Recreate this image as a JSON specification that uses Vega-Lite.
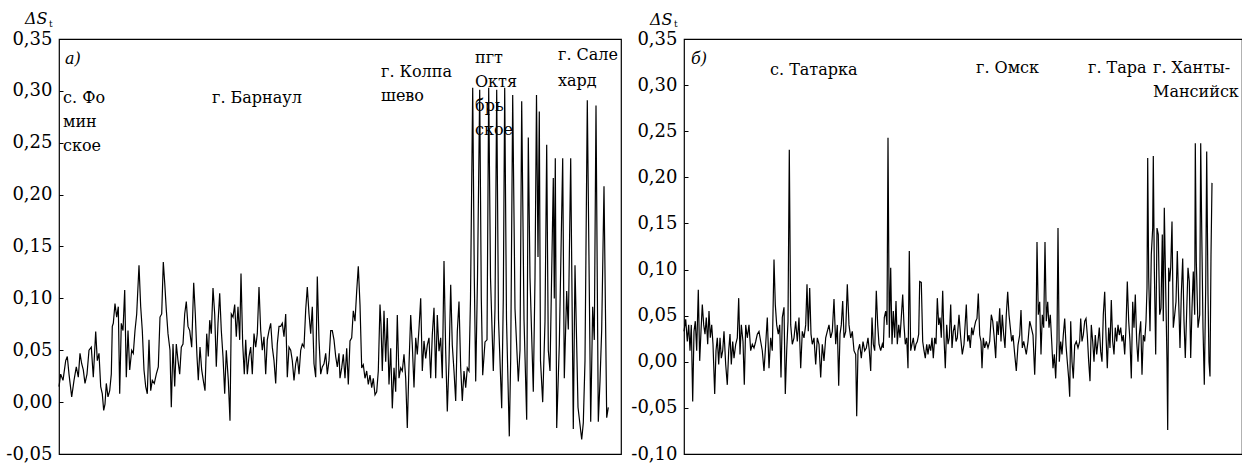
{
"$schema": "https://vega.github.io/schema/vega-lite/v6.json",
"background": "white",
"padding": {"left": 5, "top": 10, "right": 0, "bottom": 0},
"spacing": 8,
"config": {"view": {"stroke": "#000", "strokeWidth": 1.2}, "font": "DejaVu Serif", "text": {"font": "DejaVu Serif", "color": "#000"}},
"datasets": {
"a": [{"x":0,"y":0.015},{"x":1.7,"y":0.027},{"x":4,"y":0.021},{"x":6.7,"y":0.04},{"x":8.3,"y":0.044},{"x":10,"y":0.027},{"x":12.7,"y":0.005},{"x":15,"y":0.021},{"x":17.3,"y":0.034},{"x":19.3,"y":0.024},{"x":21,"y":0.047},{"x":22.7,"y":0.037},{"x":24.3,"y":0.031},{"x":26,"y":0.018},{"x":28,"y":0.027},{"x":30,"y":0.05},{"x":32.3,"y":0.053},{"x":34.3,"y":0.024},{"x":36.7,"y":0.068},{"x":38.3,"y":0.04},{"x":40,"y":0.047},{"x":41.7,"y":0.015},{"x":43.3,"y":0.008},{"x":44.7,"y":-0.008},{"x":46,"y":-0.002},{"x":47.3,"y":0.018},{"x":49,"y":0.005},{"x":50.7,"y":0.011},{"x":52.3,"y":0.027},{"x":53.3,"y":0.073},{"x":54.3,"y":0.076},{"x":56,"y":0.095},{"x":57.7,"y":0.082},{"x":59.3,"y":0.092},{"x":60.7,"y":0.008},{"x":62.3,"y":0.076},{"x":64,"y":0.069},{"x":65.7,"y":0.108},{"x":67.3,"y":0.024},{"x":69,"y":0.069},{"x":70.7,"y":0.031},{"x":72.7,"y":0.05},{"x":74.3,"y":0.047},{"x":76,"y":0.069},{"x":77.7,"y":0.085},{"x":80,"y":0.132},{"x":81.7,"y":0.092},{"x":83.3,"y":0.069},{"x":85,"y":0.031},{"x":86.7,"y":0.015},{"x":88.3,"y":0.008},{"x":90,"y":0.06},{"x":91.7,"y":0.011},{"x":93.3,"y":0.021},{"x":95.3,"y":0.018},{"x":97.3,"y":0.027},{"x":99.3,"y":0.034},{"x":101,"y":0.082},{"x":102.7,"y":0.085},{"x":104.3,"y":0.135},{"x":105.7,"y":0.115},{"x":107.3,"y":0.089},{"x":109,"y":0.066},{"x":111,"y":0.05},{"x":112.3,"y":-0.005},{"x":114,"y":0.056},{"x":115.7,"y":0.015},{"x":117.3,"y":0.056},{"x":119,"y":0.04},{"x":120.7,"y":0.027},{"x":122.3,"y":0.053},{"x":124,"y":0.056},{"x":125.7,"y":0.085},{"x":127.3,"y":0.097},{"x":129,"y":0.073},{"x":130.7,"y":0.069},{"x":132.7,"y":0.053},{"x":134.7,"y":0.115},{"x":136.3,"y":0.085},{"x":138,"y":0.044},{"x":139.3,"y":0.021},{"x":141,"y":0.053},{"x":142.7,"y":0.031},{"x":144.3,"y":0.021},{"x":146,"y":0.011},{"x":147.7,"y":0.066},{"x":149.3,"y":0.044},{"x":150.7,"y":0.079},{"x":152.3,"y":0.066},{"x":154,"y":0.11},{"x":155.7,"y":0.085},{"x":157.3,"y":0.034},{"x":159,"y":0.076},{"x":160.7,"y":0.105},{"x":162.3,"y":0.069},{"x":164,"y":0.044},{"x":165.7,"y":0.008},{"x":167.3,"y":0.05},{"x":169.3,"y":0.021},{"x":171,"y":-0.018},{"x":172.3,"y":0.085},{"x":174,"y":0.082},{"x":175.7,"y":0.094},{"x":177.3,"y":0.063},{"x":179,"y":0.092},{"x":180.7,"y":0.06},{"x":182,"y":0.124},{"x":183.7,"y":0.056},{"x":185.3,"y":0.027},{"x":186.7,"y":0.06},{"x":188.3,"y":0.027},{"x":190,"y":0.044},{"x":191.7,"y":0.053},{"x":193.3,"y":0.027},{"x":195,"y":0.066},{"x":196.7,"y":0.053},{"x":198.3,"y":0.066},{"x":200,"y":0.111},{"x":201.7,"y":0.069},{"x":203.3,"y":0.05},{"x":205,"y":0.063},{"x":206.7,"y":0.027},{"x":208.3,"y":0.06},{"x":210,"y":0.069},{"x":211.7,"y":0.076},{"x":213.3,"y":0.053},{"x":215,"y":0.04},{"x":216.7,"y":0.018},{"x":218.3,"y":0.056},{"x":220,"y":0.073},{"x":221.7,"y":0.073},{"x":223.3,"y":0.076},{"x":225,"y":0.063},{"x":226.7,"y":0.085},{"x":228.3,"y":0.024},{"x":230,"y":0.053},{"x":231.7,"y":0.05},{"x":233.3,"y":0.04},{"x":235,"y":0.021},{"x":236.7,"y":0.037},{"x":238.3,"y":0.044},{"x":240,"y":0.027},{"x":241.7,"y":0.05},{"x":243.3,"y":0.056},{"x":245,"y":0.053},{"x":246.7,"y":0.089},{"x":248.3,"y":0.111},{"x":250,"y":0.085},{"x":251.7,"y":0.066},{"x":253.3,"y":0.092},{"x":255,"y":0.037},{"x":256.7,"y":0.024},{"x":258.3,"y":0.121},{"x":260,"y":0.06},{"x":261.7,"y":0.027},{"x":263.3,"y":0.034},{"x":265,"y":0.037},{"x":266.7,"y":0.047},{"x":268.3,"y":0.027},{"x":270,"y":0.04},{"x":271.7,"y":0.069},{"x":273.3,"y":0.069},{"x":275,"y":0.06},{"x":276.7,"y":0.044},{"x":278.3,"y":0.034},{"x":280,"y":0.047},{"x":281,"y":0.023},{"x":282.7,"y":0.033},{"x":284.3,"y":0.046},{"x":286,"y":0.023},{"x":287.7,"y":0.052},{"x":289.3,"y":0.017},{"x":291,"y":0.059},{"x":292.7,"y":0.062},{"x":294.3,"y":0.088},{"x":296,"y":0.078},{"x":297.7,"y":0.107},{"x":299.3,"y":0.131},{"x":301,"y":0.094},{"x":302.7,"y":0.033},{"x":304.3,"y":0.036},{"x":306,"y":0.023},{"x":307.7,"y":0.03},{"x":309.3,"y":0.017},{"x":311,"y":0.026},{"x":312.7,"y":0.014},{"x":314.3,"y":0.023},{"x":316,"y":0.007},{"x":317.7,"y":0.01},{"x":319.3,"y":0.03},{"x":321,"y":0.094},{"x":322,"y":0.075},{"x":323.3,"y":0.03},{"x":325,"y":0.088},{"x":326.7,"y":0.039},{"x":328.3,"y":0.081},{"x":330,"y":0.017},{"x":331.7,"y":0.052},{"x":333.3,"y":-0.006},{"x":335,"y":0.033},{"x":336.7,"y":0.01},{"x":338.3,"y":0.084},{"x":340,"y":0.023},{"x":341.7,"y":0.033},{"x":343.3,"y":0.03},{"x":345,"y":0.046},{"x":346.7,"y":0.023},{"x":348.3,"y":-0.025},{"x":350,"y":0.036},{"x":351.7,"y":0.084},{"x":353.3,"y":0.055},{"x":355,"y":0.014},{"x":356.7,"y":0.062},{"x":358.3,"y":0.046},{"x":360,"y":0.071},{"x":361.7,"y":0.1},{"x":363.3,"y":0.03},{"x":365,"y":0.059},{"x":366.7,"y":0.042},{"x":368.3,"y":0.055},{"x":370,"y":0.062},{"x":371.7,"y":0.023},{"x":373.3,"y":0.065},{"x":375,"y":0.091},{"x":376.7,"y":0.023},{"x":378.3,"y":0.084},{"x":380,"y":0.049},{"x":381.7,"y":0.062},{"x":383.3,"y":0.023},{"x":385,"y":0.136},{"x":386.7,"y":0.049},{"x":388.3,"y":-0.009},{"x":390,"y":0.039},{"x":391.7,"y":0.113},{"x":393.3,"y":0.055},{"x":395,"y":0.03},{"x":396.7,"y":0.001},{"x":398.3,"y":0.068},{"x":400,"y":0.097},{"x":401.7,"y":0.033},{"x":403.3,"y":0.001},{"x":405,"y":0.03},{"x":406.7,"y":0.014},{"x":408.3,"y":0.033},{"x":410,"y":0.03},{"x":411.5,"y":0.1},{"x":413.7,"y":0.303},{"x":415.3,"y":0.12},{"x":416.7,"y":0.02},{"x":418.5,"y":0.12},{"x":420.7,"y":0.301},{"x":422.3,"y":0.1},{"x":423.7,"y":0.026},{"x":426,"y":0.058},{"x":428,"y":0.06},{"x":429.7,"y":0.303},{"x":431.5,"y":0.12},{"x":434.3,"y":0.03},{"x":436,"y":0.09},{"x":437.7,"y":0.301},{"x":439.5,"y":0.08},{"x":442.7,"y":-0.006},{"x":444.3,"y":0.1},{"x":445.7,"y":0.303},{"x":447.5,"y":0.08},{"x":450.3,"y":-0.033},{"x":451.7,"y":0.042},{"x":453.7,"y":0.296},{"x":456,"y":0.09},{"x":459.3,"y":0.02},{"x":461,"y":0.05},{"x":462.7,"y":0.29},{"x":465,"y":0.08},{"x":467.7,"y":-0.017},{"x":469.3,"y":0.255},{"x":471,"y":0.12},{"x":474.3,"y":0.01},{"x":476,"y":0.12},{"x":477.5,"y":0.296},{"x":479,"y":0.14},{"x":480.3,"y":0.28},{"x":481.5,"y":0.04},{"x":483.7,"y":0.0},{"x":486,"y":0.078},{"x":487.7,"y":0.248},{"x":489.3,"y":0.05},{"x":491,"y":0.03},{"x":494.3,"y":0.216},{"x":495.3,"y":0.1},{"x":496.3,"y":0.235},{"x":497.7,"y":-0.025},{"x":500.3,"y":0.055},{"x":503.7,"y":0.235},{"x":505.3,"y":0.023},{"x":507.7,"y":0.107},{"x":509.3,"y":0.07},{"x":511.7,"y":0.235},{"x":514.3,"y":-0.026},{"x":516,"y":0.132},{"x":519,"y":-0.005},{"x":522.7,"y":-0.036},{"x":524.3,"y":-0.02},{"x":526,"y":0.04},{"x":528.3,"y":0.291},{"x":531.7,"y":-0.019},{"x":533.7,"y":0.092},{"x":535.3,"y":0.06},{"x":537,"y":0.286},{"x":539.3,"y":-0.019},{"x":541,"y":0.02},{"x":542.7,"y":0.07},{"x":545,"y":0.208},{"x":547.7,"y":-0.015},{"x":549.3,"y":-0.005}],
"b": [{"x":0,"y":0.033},{"x":1.7,"y":0.046},{"x":3.3,"y":0.022},{"x":4.7,"y":0.04},{"x":6,"y":0.012},{"x":7.3,"y":0.04},{"x":8.7,"y":-0.043},{"x":10,"y":0.033},{"x":11.3,"y":0.044},{"x":12.7,"y":0.012},{"x":14.3,"y":0.078},{"x":15.7,"y":0.001},{"x":17,"y":0.033},{"x":18.3,"y":0.062},{"x":19.7,"y":0.04},{"x":21,"y":0.03},{"x":22.3,"y":0.048},{"x":23.7,"y":0.019},{"x":25,"y":0.055},{"x":26.3,"y":0.026},{"x":27.7,"y":0.04},{"x":29,"y":0.019},{"x":30.7,"y":-0.035},{"x":32,"y":0.012},{"x":33.3,"y":0.026},{"x":34.7,"y":-0.003},{"x":36,"y":0.026},{"x":37.3,"y":0.004},{"x":38.7,"y":0.012},{"x":40,"y":0.033},{"x":41.7,"y":-0.003},{"x":43.3,"y":-0.025},{"x":44.7,"y":0.012},{"x":46,"y":0.03},{"x":47.3,"y":-0.003},{"x":48.7,"y":0.022},{"x":50,"y":0.004},{"x":51.7,"y":0.019},{"x":53.3,"y":0.026},{"x":54.7,"y":0.069},{"x":56,"y":0.008},{"x":57.3,"y":0.04},{"x":59,"y":0.022},{"x":60.3,"y":-0.025},{"x":61.7,"y":0.04},{"x":63.3,"y":0.026},{"x":65,"y":0.04},{"x":66.7,"y":0.012},{"x":68.3,"y":0.019},{"x":70,"y":0.015},{"x":71.7,"y":0.022},{"x":73.3,"y":0.03},{"x":75,"y":0.033},{"x":76.7,"y":0.022},{"x":78.3,"y":0.012},{"x":80,"y":-0.01},{"x":81.7,"y":0.019},{"x":83.3,"y":0.048},{"x":85,"y":-0.007},{"x":86.7,"y":0.026},{"x":88.3,"y":0.012},{"x":90,"y":0.111},{"x":91.3,"y":0.062},{"x":92.7,"y":0.04},{"x":94.3,"y":0.03},{"x":95.7,"y":0.04},{"x":97,"y":-0.017},{"x":98.3,"y":0.048},{"x":100,"y":0.059},{"x":101.3,"y":-0.035},{"x":102.7,"y":0.012},{"x":104,"y":0.044},{"x":105.3,"y":0.23},{"x":106.7,"y":0.04},{"x":108.3,"y":0.019},{"x":110,"y":0.026},{"x":111.7,"y":0.044},{"x":113.3,"y":0.022},{"x":115,"y":0.048},{"x":116.7,"y":-0.007},{"x":118.3,"y":0.033},{"x":120,"y":0.026},{"x":121.7,"y":0.04},{"x":123,"y":0.084},{"x":124.3,"y":0.033},{"x":125.7,"y":0.08},{"x":127,"y":0.03},{"x":128.3,"y":0.019},{"x":130,"y":0.026},{"x":131.7,"y":-0.003},{"x":133.3,"y":0.026},{"x":135,"y":0.019},{"x":136.7,"y":-0.017},{"x":138.3,"y":0.019},{"x":140,"y":0.001},{"x":141.7,"y":0.026},{"x":143.3,"y":0.033},{"x":145,"y":0.04},{"x":146.7,"y":0.026},{"x":148.3,"y":0.033},{"x":150,"y":0.068},{"x":151.7,"y":0.019},{"x":153.3,"y":0.04},{"x":154.7,"y":-0.026},{"x":156,"y":0.03},{"x":157.3,"y":0.04},{"x":158.7,"y":0.066},{"x":160,"y":0.026},{"x":161.7,"y":0.033},{"x":163.3,"y":0.084},{"x":165,"y":0.04},{"x":166.7,"y":0.026},{"x":168.3,"y":0.033},{"x":170,"y":0.012},{"x":171.7,"y":0.008},{"x":172.7,"y":-0.059},{"x":174,"y":0.012},{"x":175.7,"y":0.019},{"x":177.3,"y":0.004},{"x":179,"y":0.022},{"x":180.7,"y":0.012},{"x":182.3,"y":0.015},{"x":184,"y":0.026},{"x":185.3,"y":0.012},{"x":186.7,"y":-0.01},{"x":188,"y":0.048},{"x":189.3,"y":0.019},{"x":190.7,"y":0.012},{"x":192.3,"y":0.077},{"x":193.7,"y":0.04},{"x":195,"y":0.019},{"x":196.7,"y":0.012},{"x":198.3,"y":0.019},{"x":199.3,"y":0.015},{"x":200.3,"y":0.048},{"x":201.7,"y":0.055},{"x":203,"y":0.04},{"x":204,"y":0.243},{"x":205.3,"y":0.026},{"x":206.7,"y":0.102},{"x":208,"y":0.019},{"x":209.3,"y":0.055},{"x":210.7,"y":0.026},{"x":212,"y":0.066},{"x":213.3,"y":0.019},{"x":214.7,"y":0.04},{"x":216,"y":0.026},{"x":217.3,"y":0.048},{"x":218.7,"y":0.073},{"x":220,"y":0.04},{"x":221.3,"y":0.019},{"x":222.7,"y":0.026},{"x":224,"y":-0.007},{"x":225.3,"y":0.12},{"x":226.7,"y":0.012},{"x":228,"y":0.019},{"x":229.3,"y":0.026},{"x":230.7,"y":0.012},{"x":232,"y":0.019},{"x":233.3,"y":0.022},{"x":234.7,"y":0.03},{"x":235.7,"y":0.087},{"x":237.3,"y":0.086},{"x":238.7,"y":0.022},{"x":240,"y":0.012},{"x":241.3,"y":0.004},{"x":242.7,"y":0.019},{"x":244,"y":0.008},{"x":245.3,"y":0.019},{"x":246.7,"y":0.012},{"x":248,"y":0.026},{"x":249.3,"y":0.004},{"x":250.7,"y":0.026},{"x":252,"y":0.019},{"x":253.3,"y":0.069},{"x":254.7,"y":0.04},{"x":256,"y":0.048},{"x":257.3,"y":0.026},{"x":258.7,"y":0.077},{"x":260,"y":0.026},{"x":261.3,"y":-0.007},{"x":262.7,"y":0.04},{"x":264,"y":0.019},{"x":265.3,"y":0.026},{"x":266.7,"y":0.062},{"x":268,"y":0.015},{"x":269.3,"y":0.033},{"x":270.7,"y":0.04},{"x":272,"y":0.022},{"x":273.3,"y":0.026},{"x":275,"y":0.051},{"x":276.7,"y":0.026},{"x":278.3,"y":0.008},{"x":280,"y":0.019},{"x":282.3,"y":0.062},{"x":283.7,"y":0.022},{"x":285,"y":0.029},{"x":286.3,"y":0.015},{"x":287.7,"y":0.037},{"x":289,"y":0.029},{"x":290.3,"y":0.037},{"x":291.7,"y":0.044},{"x":293,"y":0.047},{"x":294.3,"y":0.074},{"x":295.7,"y":0.029},{"x":297,"y":0.022},{"x":298,"y":-0.007},{"x":299.3,"y":0.026},{"x":300.7,"y":0.015},{"x":302.3,"y":0.022},{"x":304,"y":0.015},{"x":305.7,"y":0.022},{"x":307.3,"y":0.051},{"x":308.7,"y":0.044},{"x":310,"y":0.029},{"x":311.7,"y":0.004},{"x":313,"y":0.044},{"x":314.3,"y":0.029},{"x":315.7,"y":0.058},{"x":317,"y":0.022},{"x":318.3,"y":0.051},{"x":319.7,"y":0.029},{"x":321,"y":0.015},{"x":322.3,"y":0.051},{"x":323.7,"y":0.076},{"x":325,"y":0.051},{"x":326.3,"y":0.037},{"x":327.7,"y":0.022},{"x":329,"y":0.029},{"x":330.7,"y":0.008},{"x":332.3,"y":-0.01},{"x":334,"y":0.018},{"x":335.7,"y":0.029},{"x":337,"y":0.056},{"x":338.3,"y":0.015},{"x":339.7,"y":0.022},{"x":341,"y":0.015},{"x":342.3,"y":0.008},{"x":344,"y":0.022},{"x":345.7,"y":0.044},{"x":347.3,"y":0.037},{"x":349,"y":0.029},{"x":350.7,"y":-0.014},{"x":352,"y":0.029},{"x":353,"y":0.13},{"x":354.3,"y":0.051},{"x":355.7,"y":0.065},{"x":357,"y":0.008},{"x":358.3,"y":0.051},{"x":359.7,"y":0.037},{"x":361,"y":0.13},{"x":362.3,"y":0.044},{"x":363.7,"y":0.065},{"x":365,"y":0.037},{"x":366.3,"y":0.051},{"x":367.7,"y":0.022},{"x":369,"y":-0.007},{"x":370.3,"y":0.008},{"x":371.7,"y":-0.018},{"x":373,"y":0.022},{"x":374,"y":0.145},{"x":375.3,"y":0.0},{"x":376.7,"y":0.022},{"x":378,"y":0.008},{"x":379.3,"y":0.029},{"x":380.7,"y":0.047},{"x":382,"y":0.018},{"x":383.3,"y":0.0},{"x":384.7,"y":-0.018},{"x":385.7,"y":-0.038},{"x":386.7,"y":0.044},{"x":388,"y":0.0},{"x":389.3,"y":-0.018},{"x":390.7,"y":0.018},{"x":392.3,"y":0.022},{"x":394,"y":0.015},{"x":395.7,"y":0.022},{"x":396.7,"y":0.047},{"x":398,"y":0.022},{"x":399.3,"y":0.029},{"x":400.7,"y":0.044},{"x":402,"y":0.047},{"x":403.3,"y":0.029},{"x":404.7,"y":0.0},{"x":406,"y":-0.021},{"x":407.3,"y":0.04},{"x":408.7,"y":0.022},{"x":410,"y":0.0},{"x":411.3,"y":0.029},{"x":412.7,"y":0.008},{"x":414,"y":0.022},{"x":415.3,"y":0.037},{"x":416.7,"y":0.011},{"x":418,"y":0.0},{"x":419.3,"y":0.051},{"x":420.7,"y":0.076},{"x":422,"y":0.029},{"x":423.3,"y":-0.007},{"x":424.7,"y":0.037},{"x":426,"y":0.015},{"x":427.3,"y":0.067},{"x":428.7,"y":0.022},{"x":430,"y":0.008},{"x":431.3,"y":0.037},{"x":432.7,"y":0.022},{"x":434,"y":0.04},{"x":435.3,"y":0.029},{"x":436.7,"y":0.037},{"x":438,"y":0.022},{"x":439.3,"y":0.029},{"x":440.7,"y":0.008},{"x":442,"y":0.037},{"x":443.3,"y":0.087},{"x":444.7,"y":0.044},{"x":446,"y":0.022},{"x":447.3,"y":-0.018},{"x":448.7,"y":0.065},{"x":450,"y":0.037},{"x":451.3,"y":0.073},{"x":452.7,"y":0.022},{"x":454,"y":0.0},{"x":455.3,"y":0.029},{"x":456.7,"y":0.044},{"x":458,"y":-0.014},{"x":459.3,"y":0.029},{"x":460.7,"y":0.022},{"x":462,"y":0.044},{"x":463,"y":0.08},{"x":463.7,"y":0.221},{"x":464.7,"y":0.091},{"x":466,"y":0.033},{"x":467.3,"y":0.116},{"x":468.7,"y":0.145},{"x":469.3,"y":0.223},{"x":470.3,"y":0.102},{"x":471.7,"y":0.008},{"x":473,"y":0.145},{"x":474.3,"y":0.138},{"x":475.7,"y":0.051},{"x":477,"y":0.058},{"x":478.3,"y":0.138},{"x":479.3,"y":0.044},{"x":480.3,"y":0.167},{"x":481.7,"y":0.08},{"x":483,"y":0.0},{"x":483.7,"y":-0.074},{"x":484.7,"y":0.102},{"x":485.7,"y":0.087},{"x":486.7,"y":0.102},{"x":488,"y":0.152},{"x":489.3,"y":0.037},{"x":490.7,"y":0.051},{"x":492,"y":0.065},{"x":493.3,"y":0.12},{"x":494.7,"y":0.065},{"x":496,"y":0.015},{"x":497.3,"y":0.073},{"x":498.7,"y":0.112},{"x":500,"y":0.044},{"x":501.3,"y":0.004},{"x":502.7,"y":0.055},{"x":504,"y":0.102},{"x":505.3,"y":0.087},{"x":506.7,"y":0.004},{"x":508,"y":0.058},{"x":509.3,"y":0.098},{"x":510.7,"y":0.051},{"x":511.3,"y":0.237},{"x":512.3,"y":0.109},{"x":514,"y":0.037},{"x":515.7,"y":0.051},{"x":516.7,"y":0.237},{"x":517.7,"y":0.145},{"x":519,"y":0.037},{"x":520.3,"y":-0.025},{"x":521.7,"y":0.08},{"x":522.7,"y":0.228},{"x":524,"y":0.073},{"x":525,"y":0.0},{"x":526,"y":-0.016},{"x":527,"y":0.116},{"x":528,"y":0.194}],
"va": [{"x":53},{"x":321},{"x":409},{"x":461}],
"vb": [{"x":199},{"x":397},{"x":463}],
"la": [{"x":4,"y":0.293,"t":"с. Фо"},{"x":4,"y":0.27,"t":"мин"},{"x":4,"y":0.247,"t":"ское"},{"x":153,"y":0.293,"t":"г. Барнаул"},{"x":322,"y":0.318,"t":"г. Колпа"},{"x":322,"y":0.295,"t":"шево"},{"x":416,"y":0.332,"t":"пгт"},{"x":416,"y":0.309,"t":"Октя"},{"x":416,"y":0.285,"t":"брь"},{"x":416,"y":0.262,"t":"ское"},{"x":499,"y":0.335,"t":"г. Сале"},{"x":499,"y":0.31,"t":"хард"}],
"lb": [{"x":86,"y":0.316,"t":"с. Татарка"},{"x":292,"y":0.319,"t":"г. Омск"},{"x":404,"y":0.319,"t":"г. Тара"},{"x":469,"y":0.319,"t":"г. Ханты-"},{"x":469,"y":0.293,"t":"Мансийск"}],
"ia": [{"x":6,"y":0.331,"t":"а)"},{"x":-34,"y":0.369,"t":"ΔS"}],
"ib": [{"x":7,"y":0.328,"t":"б)"},{"x":-34,"y":0.371,"t":"ΔS"}],
"sa": [{"x":-10,"y":0.3645,"t":"t"}],
"sb": [{"x":-10,"y":0.3663,"t":"t"}]
},
"hconcat": [
{
"width": 562, "height": 415,
"encoding": {
"x": {"field": "x", "type": "quantitative", "title": null, "scale": {"domain": [0, 562], "nice": false, "zero": false}, "axis": null},
"y": {"field": "y", "type": "quantitative", "title": null, "scale": {"domain": [-0.05, 0.35], "nice": false, "zero": false},
"axis": {"values": [-0.05, 0, 0.05, 0.1, 0.15, 0.2, 0.25, 0.3, 0.35], "labelExpr": "replace(replace(format(datum.value, '.2f'), '.', ','), '−', '-')", "domain": false, "grid": false, "tickSize": -4, "tickColor": "#000", "labelPadding": 11, "labelFont": "DejaVu Serif", "labelFontSize": 18, "labelColor": "#000"}}
},
"layer": [
{"data": {"name": "a"}, "mark": {"type": "line", "color": "#000", "strokeWidth": 1.2}},
{"data": {"name": "va"}, "mark": {"type": "rule", "color": "#222", "strokeWidth": 1, "strokeDash": [3, 2]}, "encoding": {"y": {"datum": -0.05}, "y2": {"datum": 0.35}}},
{"data": {"name": "la"}, "mark": {"type": "text", "align": "left", "baseline": "middle", "fontSize": 16}, "encoding": {"text": {"field": "t"}}},
{"data": {"name": "ia"}, "mark": {"type": "text", "align": "left", "baseline": "middle", "fontSize": 16, "fontStyle": "italic"}, "encoding": {"text": {"field": "t"}}},
{"data": {"name": "sa"}, "mark": {"type": "text", "align": "left", "baseline": "middle", "fontSize": 9}, "encoding": {"text": {"field": "t"}}}
]
},
{
"width": 558, "height": 415,
"encoding": {
"x": {"field": "x", "type": "quantitative", "title": null, "scale": {"domain": [0, 558], "nice": false, "zero": false}, "axis": null},
"y": {"field": "y", "type": "quantitative", "title": null, "scale": {"domain": [-0.1, 0.35], "nice": false, "zero": false},
"axis": {"values": [-0.1, -0.05, 0, 0.05, 0.1, 0.15, 0.2, 0.25, 0.3, 0.35], "labelExpr": "replace(replace(format(datum.value, '.2f'), '.', ','), '−', '-')", "domain": false, "grid": false, "tickSize": -4, "tickColor": "#000", "labelPadding": 11, "labelFont": "DejaVu Serif", "labelFontSize": 18, "labelColor": "#000"}}
},
"layer": [
{"data": {"name": "b"}, "mark": {"type": "line", "color": "#000", "strokeWidth": 1.2}},
{"data": {"name": "vb"}, "mark": {"type": "rule", "color": "#222", "strokeWidth": 1, "strokeDash": [3, 2]}, "encoding": {"y": {"datum": -0.1}, "y2": {"datum": 0.35}}},
{"data": {"name": "lb"}, "mark": {"type": "text", "align": "left", "baseline": "middle", "fontSize": 16}, "encoding": {"text": {"field": "t"}}},
{"data": {"name": "ib"}, "mark": {"type": "text", "align": "left", "baseline": "middle", "fontSize": 16, "fontStyle": "italic"}, "encoding": {"text": {"field": "t"}}},
{"data": {"name": "sb"}, "mark": {"type": "text", "align": "left", "baseline": "middle", "fontSize": 9}, "encoding": {"text": {"field": "t"}}}
]
}
]
}
